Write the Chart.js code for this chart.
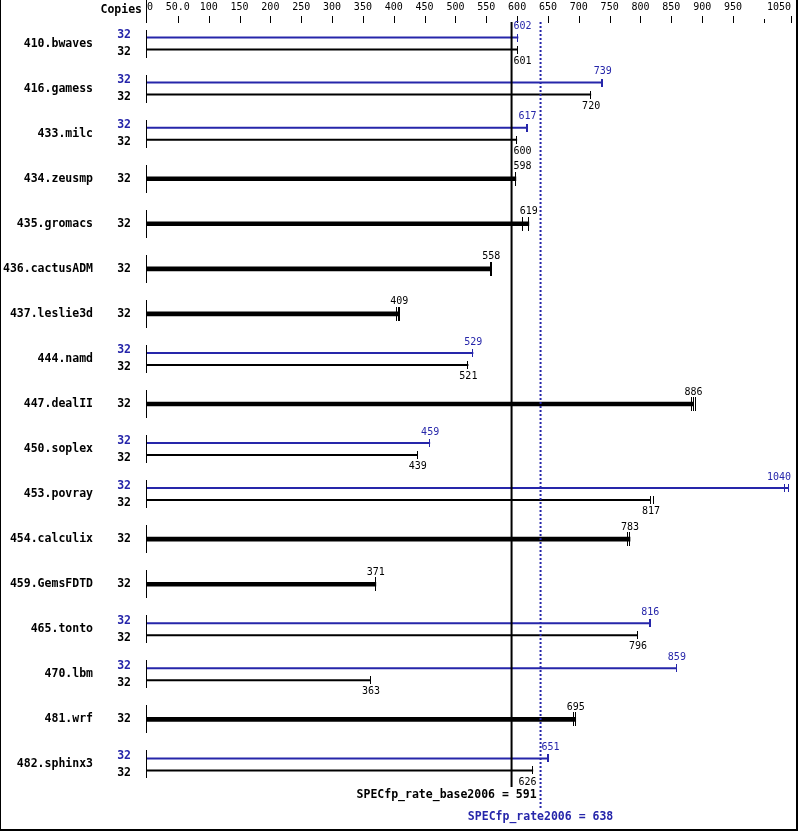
<!DOCTYPE html>
<html>
<head>
<meta charset="utf-8">
<script src="https://cdn.jsdelivr.net/npm/chart.js@4.4.1/dist/chart.umd.min.js"></script>
<style>
  html, body { margin: 0; padding: 0; background: #fff; overflow: hidden; }
  canvas { display: block; }
</style>
</head>
<body>
<canvas id="specChart" width="799" height="831"></canvas>
<script>
var benchmarks = ['410.bwaves', '416.gamess', '433.milc', '434.zeusmp', '435.gromacs', '436.cactusADM',
    '437.leslie3d', '444.namd', '447.dealII', '450.soplex', '453.povray', '454.calculix',
    '459.GemsFDTD', '465.tonto', '470.lbm', '481.wrf', '482.sphinx3'];
var baseCopies = [32, 32, 32, 32, 32, 32, 32, 32, 32, 32, 32, 32, 32, 32, 32, 32, 32];
var peakCopies = [32, 32, 32, null, null, null, null, 32, null, 32, 32, null, null, 32, 32, null, 32];
var baseScores = [601, 720, 600, 598, 619, 558, 409, 521, 886, 439, 817, 783, 371, 796, 363, 695, 626];
var peakScores = [602, 739, 617, null, null, null, null, 529, null, 459, 1040, null, null, 816, 859, null, 651];
// individual run results, drawn as small ticks at the bar end
var baseRuns = [[601], [720], [600], [598], [609, 619, 620], [558, 559], [405, 408, 410], [521], [883, 886, 890],
    [439], [817, 822], [779, 783], [371], [796], [363], [693, 696], [626]];
var peakRuns = [[602], [738, 739], [616, 617], null, null, null, null, [529], null,
    [459], [1035, 1040], null, null, [815, 816, 817], [859], null, [650, 651]];
var tickValues = [0, 50, 100, 150, 200, 250, 300, 350, 400, 450, 500, 550, 600, 650, 700, 750, 800, 850, 900, 950, 1000, 1044];
var tickLabels = ['0', '50.0', '100', '150', '200', '250', '300', '350', '400', '450', '500', '550', '600', '650',
    '700', '750', '800', '850', '900', '950', '', '1050'];
var baseMean = 591;
var peakMean = 638;

var BLUE = '#2626aa';
var MONO = "'DejaVu Sans Mono', 'Liberation Mono', monospace";

var pairedBase = baseScores.map(function (v, i) { return peakScores[i] === null ? null : v; });
var singleBase = baseScores.map(function (v, i) { return peakScores[i] === null ? v : null; });

var specPlugin = {
    id: 'specDecor',
    afterDatasetsDraw: function (chart) {
        var ctx = chart.ctx;
        var xs = chart.scales.x;
        var ys = chart.scales.y;
        var area = chart.chartArea;
        var xBase = xs.getPixelForValue(baseMean);
        var xPeak = xs.getPixelForValue(peakMean);

        ctx.save();
        ctx.fillStyle = '#000';

        // axis tick marks
        xs.ticks.forEach(function (t, i) {
            var px = Math.round(xs.getPixelForValue(t.value));
            if (i === 0) return;
            var top = tickLabels[i] === '' ? 19 : 16;
            ctx.fillRect(px, top, 1, 23 - top);
        });
        ctx.fillRect(Math.round(area.left) - 1, 0, 1, 23);

        // left column texts + row separators
        ctx.textBaseline = 'middle';
        ctx.font = 'bold 11.5px ' + MONO;
        ctx.textAlign = 'right';
        ctx.fillText('Copies', 142, 10);
        benchmarks.forEach(function (name, i) {
            var yc = ys.getPixelForValue(i);
            ctx.fillStyle = '#000';
            ctx.fillRect(Math.round(area.left) - 1, Math.round(yc - 14), 1, 28);
            ctx.fillText(name, 93, yc);
            if (peakCopies[i] !== null) {
                ctx.fillStyle = BLUE;
                ctx.fillText(String(peakCopies[i]), 131, yc - 8.5);
                ctx.fillStyle = '#000';
                ctx.fillText(String(baseCopies[i]), 131, yc + 8.5);
            } else {
                ctx.fillText(String(baseCopies[i]), 131, yc);
            }
        });

        // run ticks and value labels
        ctx.font = '10px ' + MONO;
        ctx.textAlign = 'left';
        function placeLabel(text, x, y, color) {
            var w = ctx.measureText(text).width;
            var left = x - w / 2;
            if (left < xBase + 2 && left + w > xBase - 2) {
                left = x > xBase ? xBase + 2 : xBase - 2 - w;
            }
            if (left < xPeak + 2 && left + w > xPeak - 2) {
                left = x > xPeak ? xPeak + 1 : xPeak - 4 - w;
            }
            if (left + w > area.right) left = area.right - w;
            ctx.fillStyle = color;
            ctx.fillText(text, left, y);
        }
        function drawRuns(runs, yc, half, color) {
            ctx.fillStyle = color;
            runs.forEach(function (r) {
                var px = Math.round(xs.getPixelForValue(r));
                ctx.fillRect(px - 1, Math.round(yc - half), 1, half * 2);
            });
        }
        var peakMeta = chart.getDatasetMeta(0);
        var baseMeta = chart.getDatasetMeta(1);
        var singleMeta = chart.getDatasetMeta(2);
        benchmarks.forEach(function (name, i) {
            if (peakScores[i] !== null) {
                var yp = peakMeta.data[i].y;
                var yb = baseMeta.data[i].y;
                drawRuns(peakRuns[i], yp, 4, BLUE);
                drawRuns(baseRuns[i], yb, 4, '#000');
                placeLabel(String(peakScores[i]), xs.getPixelForValue(peakScores[i]), yp - 11, BLUE);
                placeLabel(String(baseScores[i]), xs.getPixelForValue(baseScores[i]), yb + 11.5, '#000');
            } else {
                var ys1 = singleMeta.data[i].y;
                drawRuns(baseRuns[i], ys1, 7, '#000');
                placeLabel(String(baseScores[i]), xs.getPixelForValue(baseScores[i]), ys1 - 12, '#000');
            }
        });

        // overall score lines
        ctx.fillStyle = '#000';
        ctx.fillRect(xBase - 1, area.top + 1, 2, area.bottom - area.top - 1);
        ctx.strokeStyle = BLUE;
        ctx.lineWidth = 2;
        ctx.setLineDash([2, 2]);
        ctx.beginPath();
        ctx.moveTo(xPeak, area.top + 1);
        ctx.lineTo(xPeak, 808);
        ctx.stroke();
        ctx.setLineDash([]);

        ctx.font = 'bold 11.5px ' + MONO;
        ctx.textAlign = 'right';
        ctx.fillStyle = '#000';
        ctx.fillText('SPECfp_rate_base2006 = ' + baseMean, xPeak - 4, 795);
        ctx.textAlign = 'center';
        ctx.fillStyle = BLUE;
        ctx.fillText('SPECfp_rate2006 = ' + peakMean, xPeak, 817);

        // frame
        ctx.fillStyle = '#000';
        ctx.fillRect(0, 0, 1, 831);
        ctx.fillRect(796, 0, 2, 831);
        ctx.fillRect(0, 829, 798, 2);
        ctx.restore();
    }
};

new Chart(document.getElementById('specChart'), {
    type: 'bar',
    data: {
        labels: benchmarks,
        datasets: [{
            label: 'Peak',
            data: peakScores,
            backgroundColor: BLUE,
            borderWidth: 0,
            categoryPercentage: 0.533,
            barPercentage: 0.1667
        }, {
            label: 'Base',
            data: pairedBase,
            backgroundColor: '#000',
            borderWidth: 0,
            categoryPercentage: 0.533,
            barPercentage: 0.1667
        }, {
            label: 'Base (single)',
            data: singleBase,
            backgroundColor: '#000',
            borderWidth: 0,
            grouped: false,
            barThickness: 4
        }]
    },
    options: {
        indexAxis: 'y',
        responsive: false,
        animation: false,
        layout: {
            padding: { left: 147, right: 8, top: 0, bottom: 44 }
        },
        plugins: {
            legend: { display: false },
            tooltip: { enabled: false }
        },
        scales: {
            x: {
                type: 'linear',
                position: 'top',
                min: 0,
                max: 1044,
                afterBuildTicks: function (scale) {
                    scale.ticks = tickValues.map(function (v) { return { value: v }; });
                },
                grid: { display: false, drawTicks: true, tickLength: 7 },
                border: { display: false },
                ticks: {
                    autoSkip: false,
                    maxRotation: 0,
                    align: 'inner',
                    padding: 1,
                    color: '#000',
                    font: { family: MONO, size: 10 },
                    callback: function (value, index) { return tickLabels[index]; }
                }
            },
            y: {
                display: false
            }
        }
    },
    plugins: [specPlugin]
});
</script>
</body>
</html>
